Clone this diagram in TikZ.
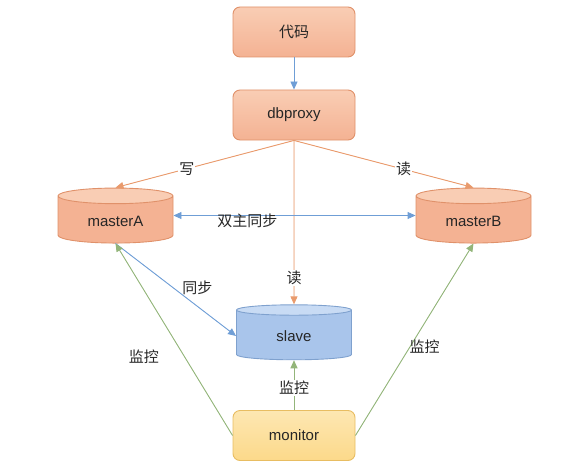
\documentclass[tikz,border=0pt]{standalone}
\usepackage{fontspec}
\setmainfont{Liberation Sans}
\newfontfamily\cjk{Noto Sans CJK SC}
\usetikzlibrary{positioning,shapes.geometric,arrows.meta}
\definecolor{orfill}{HTML}{F4B293}
\definecolor{ortop}{HTML}{F9CDB4}
\definecolor{ordraw}{HTML}{E0916A}
\definecolor{blfill}{HTML}{A9C5EB}
\definecolor{bltop}{HTML}{C8DBF4}
\definecolor{bldraw}{HTML}{7FA1CE}
\definecolor{yefill}{HTML}{FCD98A}
\definecolor{yetop}{HTML}{FDE7B2}
\definecolor{yedraw}{HTML}{E8BD62}
\definecolor{orline}{HTML}{E99A6C}
\definecolor{blline}{HTML}{6F9ED6}
\definecolor{grline}{HTML}{93B57A}

\begin{document}
\begin{tikzpicture}[x=1pt,y=-1pt,>={Triangle[length=8pt,width=7pt]},node distance=100pt,on grid,line width=0.9pt,
  font=\fontsize{15}{18}\selectfont]
\tikzstyle{box}=[rectangle,rounded corners=7pt,draw=ordraw,top color=ortop,bottom color=orfill,minimum width=122pt,minimum height=50pt,text=black!85]
\tikzstyle{db}=[cylinder,shape border rotate=90,aspect=0.25,draw=ordraw,minimum width=115pt,minimum height=55pt,
  cylinder uses custom fill,cylinder body fill=orfill,cylinder end fill=ortop,text=black!85]
\tikzstyle{orarrow}=[->,draw=orline,fill=orline]
\tikzstyle{blarrow}=[->,draw=blline,fill=blline]
\tikzstyle{grarrow}=[->,draw=grline,fill=grline]
\tikzstyle{lbl}=[fill=white,inner sep=1pt,text=black!85]
\useasboundingbox (0,0) rectangle (588,468);

	\node[box] (code) at (294,32) {\cjk 代码};
	\node[box] (dbproxy) [below=83pt of code] {dbproxy};
	\node[db] (masterA) [below left=106pt and 178.5pt of dbproxy] {masterA};
	\node[db] (masterB) [below right=106pt and 179.5pt of dbproxy] {masterB};
	\node[db] (slave) [below=221pt of dbproxy] [draw=bldraw,cylinder body fill=blfill,cylinder end fill=bltop] {slave};
	\node[box] (monitor) [below=99.5pt of slave] [draw=yedraw,top color=yetop,bottom color=yefill] {monitor};

	\path (code) edge[blarrow] (dbproxy)
	      (dbproxy.south) edge[orarrow] node[lbl,pos=0.6] {\cjk 写} (masterA.north)
	                      edge[orarrow] node[lbl,pos=0.61] {\cjk 读} (masterB.north)
	                      edge[orarrow] node[lbl,pos=0.84] {\cjk 读} (slave.north)
	      ([yshift=5.5pt]masterA.east) edge[blarrow,<->] node[pos=0.305,yshift=-5pt,text=black!85] {\cjk 双主同步} ([yshift=5.5pt]masterB.west)
	      (masterA.south) edge[blarrow] node[pos=0.68,above=8pt,text=black!85] {\cjk 同步} (slave.west)
	      (monitor.west) edge[grarrow] node[pos=0.41,left=22pt,text=black!85] {\cjk 监控} (masterA.south)
	      (monitor.north) edge[grarrow] node[lbl,pos=0.44] {\cjk 监控} (slave.south)
	      (monitor.east) edge[grarrow] node[pos=0.46,right=-4pt,text=black!85] {\cjk 监控} (masterB.south);
\end{tikzpicture}
\end{document}
